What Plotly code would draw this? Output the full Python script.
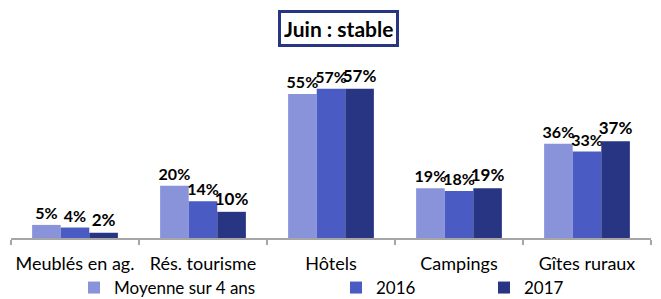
import plotly.graph_objects as go

categories = ["Meublés en ag.", "Rés. tourisme", "Hôtels", "Campings", "Gîtes ruraux"]
series_names = ["Moyenne sur 4 ans", "2016", "2017"]
moyenne = [5, 20, 55, 19, 36]
v2016 = [4, 14, 57, 18, 33]
v2017 = [2, 10, 57, 19, 37]
colors = ["#8893DA", "#4A5BC4", "#283583"]

FONT = "Lato"
# page body has an 8px margin: figure is sized so it fills the 661x299 window
W, H = 653, 291
L, R, T, B = 3, 10, 52, 61
PW, PH = W - L - R, H - T - B

fig = go.Figure()
legend_ids = ["legend", "legend2", "legend3"]
for name, vals, col, lg, fs in zip(series_names, [moyenne, v2016, v2017], colors, legend_ids, [16, 16, 17]):
    fig.add_trace(go.Bar(
        x=categories, y=vals, name=name, marker_color=col, marker_line_width=0,
        text=[f"{v}%" for v in vals], textposition="outside", constraintext="none",
        textfont=dict(family=FONT, size=fs, color="#000000", weight="bold"),
        cliponaxis=False, legend=lg,
    ))

leg_common = dict(orientation="h", yanchor="middle", y=-50 / PH, xanchor="left",
                  font=dict(family=FONT, size=17, color="#000"), bgcolor="rgba(0,0,0,0)",
                  itemwidth=30, tracegroupgap=0)
fig.update_layout(
    width=W, height=H,
    margin=dict(l=L, r=R, t=T, b=B, autoexpand=False),
    paper_bgcolor="white", plot_bgcolor="white",
    barmode="group", bargap=0.33, bargroupgap=0,
    showlegend=True,
    legend=dict(x=(66 - L) / PW, **leg_common),
    legend2=dict(x=(328 - L) / PW, **leg_common),
    legend3=dict(x=(476 - L) / PW, **leg_common),
    xaxis=dict(showline=True, linecolor="#A6A6A6", linewidth=2, ticks="outside",
               tickson="boundaries", ticklen=5, tickcolor="#A6A6A6", tickwidth=2,
               tickangle=0, ticklabelstandoff=8,
               tickfont=dict(family=FONT, size=18, color="#000"), showgrid=False),
    yaxis=dict(range=[0, 68], visible=False, showgrid=False),
    annotations=[dict(text="<b>Juin : stable</b>", xref="paper", yref="paper",
                      x=(330 - L) / PW, y=1 + (T - 20) / PH, xanchor="center", yanchor="middle",
                      showarrow=False, font=dict(family=FONT, size=21, color="#000"),
                      bordercolor="#283583", borderwidth=3, borderpad=3, bgcolor="white")],
)
fig.write_html("out.html")
